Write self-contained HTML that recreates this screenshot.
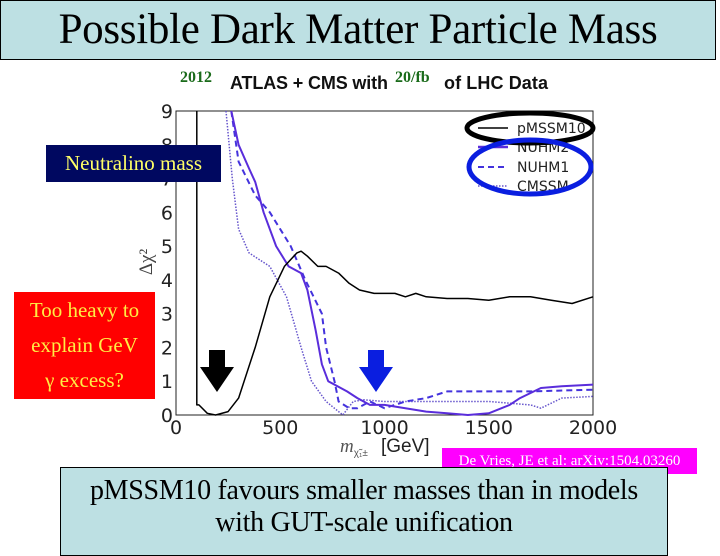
<!DOCTYPE html>
<html><head><meta charset="utf-8"><style>
body{margin:0;width:720px;height:540px;overflow:hidden;background:#fff;position:relative;font-family:"Liberation Serif",serif}
.abs{position:absolute}
</style></head><body>
<div class="abs" style="left:0;top:0;width:714px;height:58px;background:#bde0e3;border:1px solid #000;text-align:center;font-size:43px;line-height:58px;letter-spacing:-0.3px">Possible Dark Matter Particle Mass</div>

<svg class="abs" style="left:0;top:0" width="720" height="540">
<g font-family="Liberation Serif" font-weight="bold" font-size="16" fill="#1a6b1a">
<text x="180" y="82">2012</text>
<text x="395" y="82">20/fb</text>
</g>
<g font-family="Liberation Sans" font-weight="bold" font-size="18" fill="#111">
<text x="230" y="89" textLength="158">ATLAS + CMS with</text>
<text x="444" y="89" textLength="104">of LHC Data</text>
</g>
<rect x="176" y="111" width="417" height="304" fill="none" stroke="#222" stroke-width="1"/>
<g id="ticks" font-family="DejaVu Sans" font-size="19" fill="#222"></g>
<g id="series" fill="none"></g>
<text x="340" y="452" font-family="Liberation Sans" font-size="19" fill="#222"><tspan font-family="Liberation Serif" font-style="italic" fill="#555">m</tspan><tspan font-size="10" dy="4" fill="#555">χ̃₁±</tspan><tspan dy="-4" x="381">[GeV]</tspan></text>
<text transform="translate(152,262) rotate(-90)" text-anchor="middle" font-family="Liberation Serif" font-size="19" fill="#444">Δχ²</text>
<g font-family="DejaVu Sans" font-size="14" fill="#222">
<line x1="478" y1="128" x2="508" y2="128" stroke="#000" stroke-width="1.5"/><text x="517" y="133">pMSSM10</text>
<line x1="478" y1="147" x2="508" y2="147" stroke="#5a2ddb" stroke-width="2.5"/><text x="517" y="152">NUHM2</text>
<line x1="478" y1="167" x2="508" y2="167" stroke="#4433dd" stroke-width="2" stroke-dasharray="6,4"/><text x="517" y="172">NUHM1</text>
<line x1="478" y1="186" x2="508" y2="186" stroke="#6655cc" stroke-width="1.5" stroke-dasharray="1.5,1.5"/><text x="517" y="191">CMSSM</text>
</g>
<ellipse cx="530" cy="128" rx="63" ry="15" fill="none" stroke="#000" stroke-width="5"/>
<ellipse cx="530" cy="167" rx="61" ry="27" fill="none" stroke="#0a1ee0" stroke-width="5"/>
<path d="M209,350h16v17h9l-17,25l-17,-25h9z" fill="#000"/>
<path d="M368,350h16v17h9l-17,25l-17,-25h9z" fill="#0a1ee0"/>
</svg>

<div class="abs" style="left:46px;top:145px;width:175px;height:37px;background:#000860;color:#ffff66;font-size:21px;line-height:37px;text-align:center">Neutralino mass</div>
<div class="abs" style="left:14px;top:292px;width:141px;height:106px;background:#ff0000;color:#ffee44;font-size:21px;line-height:35px;text-align:center;padding-top:1px">Too heavy to<br>explain GeV<br>γ excess?</div>
<div class="abs" style="left:442px;top:448px;width:255px;height:26px;background:#ff00ff;color:#fff;font-size:15px;line-height:26px;text-align:center">De Vries, JE et al: arXiv:1504.03260</div>
<div class="abs" style="left:60px;top:467px;width:606px;height:80px;background:#bde0e3;border:1px solid #000;text-align:center;font-size:28px;line-height:32px;padding-top:7px;letter-spacing:-0.3px">pMSSM10 favours smaller masses than in models<br>with GUT-scale unification</div>

<script>
const xTicks=[0,500,1000,1500,2000];
const yTicks=[0,1,2,3,4,5,6,7,8,9];
const pmssm10X=[100,100,110,150,190,250,300,380,450,520,580,600,630,680,720,780,830,880,950,1000,1050,1100,1150,1200,1300,1400,1500,1600,1700,1800,1900,2000];
const pmssm10Y=[9,0.3,0.3,0.05,0,0.1,0.5,2,3.5,4.4,4.8,4.85,4.7,4.4,4.4,4.2,3.9,3.7,3.6,3.6,3.6,3.5,3.6,3.5,3.45,3.45,3.4,3.5,3.5,3.4,3.3,3.5];
const nuhm2X=[265,300,350,380,420,480,540,600,630,670,700,730,760,820,870,930,1000,1100,1200,1300,1400,1500,1600,1650,1750,1850,2000];
const nuhm2Y=[9,8,7.3,6.9,6,5,4.4,4.2,3.7,2.5,1.5,1,0.9,0.7,0.5,0.3,0.3,0.2,0.1,0.05,0,0.05,0.3,0.5,0.8,0.85,0.9];
const nuhm1X=[265,300,380,450,550,620,700,720,760,780,830,870,930,1000,1100,1200,1300,1500,1700,2000];
const nuhm1Y=[9,7.5,6.5,6,5,4,3,2,1,0.4,0.2,0.2,0.4,0.2,0.4,0.5,0.7,0.7,0.7,0.75];
const cmssmX=[240,270,300,350,450,530,600,650,720,800,850,900,1000,1500,1700,1750,1850,2000];
const cmssmY=[9,7,5.5,4.8,4.4,3.5,2,1,0.4,0,0.4,0.45,0.4,0.4,0.3,0.2,0.5,0.55];
const NS='http://www.w3.org/2000/svg';
const sx=v=>176+v*(417/2000), sy=v=>415-v*(304/9);
const tk=document.getElementById('ticks');
xTicks.forEach(v=>{const t=document.createElementNS(NS,'text');


t.setAttribute('x',sx(v));t.setAttribute('y',434);t.setAttribute('text-anchor','middle');t.textContent=v;tk.appendChild(t);});
yTicks.forEach(v=>{const t=document.createElementNS(NS,'text');


t.setAttribute('x',173);t.setAttribute('y',sy(v)+7);t.setAttribute('text-anchor','end');t.textContent=v;tk.appendChild(t);});
const sg=document.getElementById('series');
function line(xs,ys,col,w,dash,name){const p=document.createElementNS(NS,'path');


p.setAttribute('d',xs.map((x,i)=>(i?'L':'M')+sx(x).toFixed(1)+','+sy(ys[i]).toFixed(1)).join(''));
p.setAttribute('stroke',col);p.setAttribute('stroke-width',w);p.setAttribute('stroke-linejoin','round');if(dash)p.setAttribute('stroke-dasharray',dash);sg.appendChild(p);}
line(cmssmX,cmssmY,'#6655cc',1.5,'1.5,1.5','cmssm-line');
line(nuhm1X,nuhm1Y,'#4433dd',2,'6,4','nuhm1-line');
line(nuhm2X,nuhm2Y,'#5a2ddb',2,null,'nuhm2-line');
line(pmssm10X,pmssm10Y,'#000',1.5,null,'pmssm10-line');
</script>
</body></html>
